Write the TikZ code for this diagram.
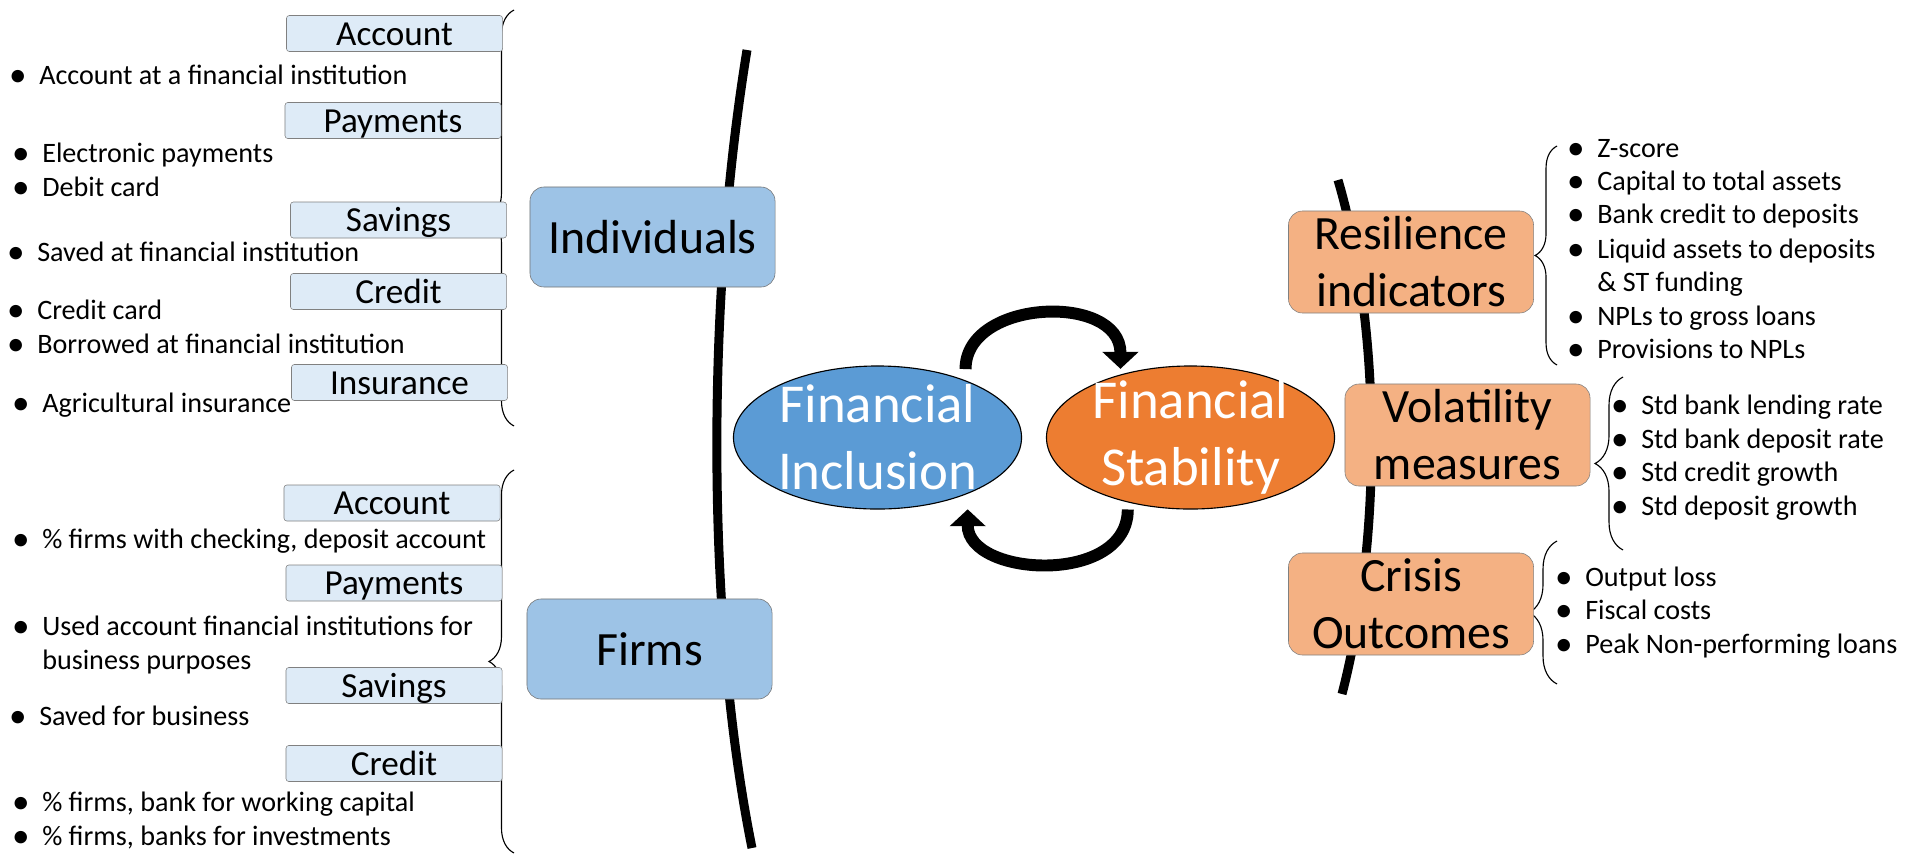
\documentclass[tikz,border=0pt]{standalone}
\usepackage{fontspec}
\setmainfont{Carlito}
\usetikzlibrary{positioning,arrows.meta,shapes.geometric,decorations.pathreplacing}

\definecolor{hdrblue}{HTML}{DEEBF7}
\definecolor{boxblue}{HTML}{9DC3E6}
\definecolor{incblue}{HTML}{5B9BD5}
\definecolor{staborange}{HTML}{ED7D31}
\definecolor{boxorange}{HTML}{F4B183}

\newcommand{\itemdot}{\llap{\raisebox{-1.5pt}{\fontsize{25}{25}\selectfont\textbullet}\hskip9pt}}

\begin{document}
\begin{tikzpicture}[x=0.025cm,y=-0.025cm,
  hdr/.style={draw=black!50,fill=hdrblue,rounded corners=2pt,inner sep=0pt,
    minimum width=5.4cm,minimum height=0.9cm,font=\fontsize{25}{30}\selectfont,
    text height=17pt,text depth=0pt},
  item/.style={anchor=west,inner sep=0pt,font=\fontsize{20}{24}\selectfont,
    text height=14pt,text depth=4pt},
  grp/.style={draw=black!55,fill=boxblue,rounded corners=10pt,
    minimum width=6.125cm,minimum height=2.5cm,font=\fontsize{34}{40}\selectfont},
  ind/.style={draw=black!50,fill=boxorange,rounded corners=10pt,align=center,
    minimum width=6.125cm,minimum height=2.55cm,inner sep=0pt,
    font=\fontsize{34}{40.5}\selectfont},
  fin/.style={ellipse,draw=black,line width=0.8pt,text=white,align=center,
    inner xsep=0pt,inner ysep=-5pt,minimum width=7.2cm,minimum height=3.575cm,
    font=\fontsize{39}{47.7}\selectfont},
  brc/.style={decorate,decoration={brace,amplitude=#1},line width=0.8pt},
  bigarc/.style={line width=6.4pt},
  cyc/.style={line width=8.5pt,-{Triangle[width=25pt,length=12pt]}}]
  \useasboundingbox (0,0) rectangle (1919,857);

  % 大きな弧（左・右）
  \draw[bigarc] (747,50) .. controls (706,300) and (706,620) .. (752,848);
  \draw[bigarc] (1338,180) .. controls (1382,330) and (1382,540) .. (1342,694);

  % 括弧
  \draw[brc=17.8pt] (514,426) -- (514,10);
  \draw[brc=17.8pt] (514,853) -- (514,470);
  \draw[brc=15.6pt] (1557,365) -- (1557,146);
  \draw[brc=19.9pt] (1623,550) -- (1623,377);
  \draw[brc=19.9pt] (1557,684) -- (1557,541);

  % 個人
  \node[hdr] (iacc) at (394.5,33.5) {Account};
  \node[hdr] (ipay) at (393,120.5) {Payments};
  \node[hdr] (isav) at (398.5,220) {Savings};
  \node[hdr] (icre) at (398.5,291.5) {Credit};
  \node[hdr] (iins) at (399.5,382.5) {Insurance};
  \node[item] (i1) at (39,77) {\itemdot Account at a financial institution};
  \node[item] (i2) at (42,155) {\itemdot Electronic payments};
  \node[item] (i3) at (42,189) {\itemdot Debit card};
  \node[item] (i4) at (37,254) {\itemdot Saved at financial institution};
  \node[item] (i5) at (37,312) {\itemdot Credit card};
  \node[item] (i6) at (37,346) {\itemdot Borrowed at financial institution};
  \node[item] (i7) at (42,405) {\itemdot Agricultural insurance};

  % 企業
  \node[hdr] (facc) at (392,503) {Account};
  \node[hdr] (fpay) at (394,583) {Payments};
  \node[hdr] (fsav) at (394,685.5) {Savings};
  \node[hdr] (fcre) at (394,763.5) {Credit};
  \node[item] (f1) at (42,541) {\itemdot \% firms with checking, deposit account};
  \node[item] (f2) at (42,628) {\itemdot Used account financial institutions for};
  \node[item] (f2b) at (42,662) {business purposes};
  \node[item] (f3) at (39,718) {\itemdot Saved for business};
  \node[item] (f4) at (42,804) {\itemdot \% firms, bank for working capital};
  \node[item] (f5) at (42,838) {\itemdot \% firms, banks for investments};

  \node[grp] (indiv) at (652.5,237) {Individuals};
  \node[grp] (firms) at (649.5,649) {Firms};

  % 中央の楕円と循環矢印
  \node[fin,fill=incblue] (inc) at (877.5,437.5) {Financial\\Inclusion};
  \node[fin,fill=staborange] (stab) at (1190.5,437.5) {Financial\\Stability};
  \draw[cyc,shorten <=8pt,shorten >=4pt] (inc.33) to[out=90,in=90,looseness=1.35] (stab.138);
  \draw[cyc,shorten <=5pt,shorten >=11pt] (stab.226) to[out=270,in=270,looseness=1.33] (inc.328);

  % 右側の指標
  \node[ind] (res) at (1411,262) {Resilience\\indicators};
  \node[ind] (vol) at (1467.5,435) {Volatility\\measures};
  \node[ind] (cri) at (1411,604) {Crisis\\Outcomes};
  \node[item] (r1) at (1597,150) {\itemdot Z-score};
  \node[item] (r2) at (1597,183) {\itemdot Capital to total assets};
  \node[item] (r3) at (1597,216) {\itemdot Bank credit to deposits};
  \node[item] (r4) at (1597,251) {\itemdot Liquid assets to deposits};
  \node[item] (r4b) at (1597,284) {\& ST funding};
  \node[item] (r5) at (1597,318) {\itemdot NPLs to gross loans};
  \node[item] (r6) at (1597,351) {\itemdot Provisions to NPLs};
  \node[item] (v1) at (1641,407) {\itemdot Std bank lending rate};
  \node[item] (v2) at (1641,441) {\itemdot Std bank deposit rate};
  \node[item] (v3) at (1641,474) {\itemdot Std credit growth};
  \node[item] (v4) at (1641,508) {\itemdot Std deposit growth};
  \node[item] (c1) at (1585,579) {\itemdot Output loss};
  \node[item] (c2) at (1585,612) {\itemdot Fiscal costs};
  \node[item] (c3) at (1585,646) {\itemdot Peak Non-performing loans};
\end{tikzpicture}
\end{document}
